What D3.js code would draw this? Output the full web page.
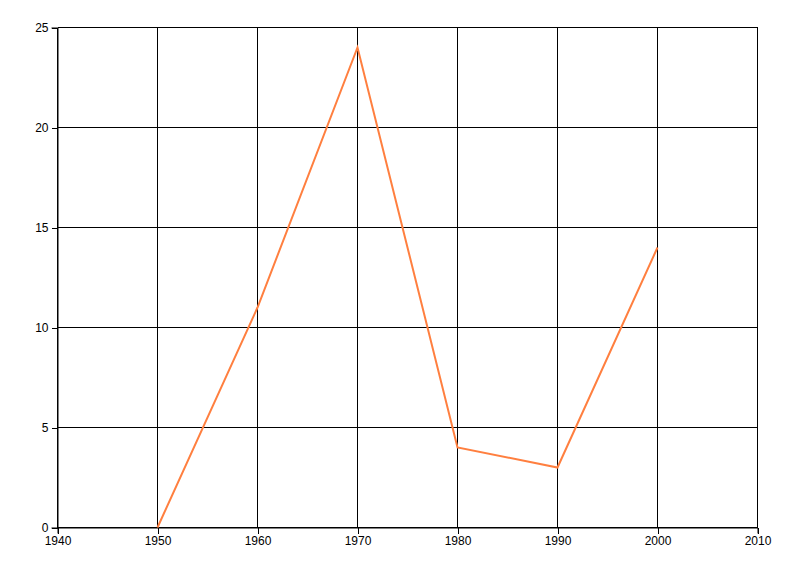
<!DOCTYPE html>
<html><head><meta charset="utf-8">
<script src="https://cdn.jsdelivr.net/npm/d3@7"></script>
<style>body{margin:0;background:#fff}svg{display:block}text{font-family:"Liberation Sans",Arial,sans-serif;font-size:12px;fill:#000}</style>
</head><body><svg id="c" width="800" height="576"></svg>
<script>
const years = [1950, 1960, 1970, 1980, 1990, 2000];
const values = [0, 11, 24, 4, 3, 14];
const xTicks = [1940, 1950, 1960, 1970, 1980, 1990, 2000, 2010];
const yTicks = [0, 5, 10, 15, 20, 25];

const svg = d3.select("#c");
const m = {l: 57.5, r: 757.5, t: 27.5, b: 527.5};
const x = d3.scaleLinear().domain([1940, 2010]).range([m.l, m.r]);
const y = d3.scaleLinear().domain([0, 25]).range([m.b, m.t]);

const g = svg.append("g");
// grid
g.selectAll(".vg").data(xTicks).join("line")
  .attr("x1", d => x(d)).attr("x2", d => x(d)).attr("y1", m.t).attr("y2", m.b)
  .attr("stroke", "#000").attr("stroke-width", 1).attr("shape-rendering", "crispEdges");
g.selectAll(".hg").data(yTicks).join("line")
  .attr("x1", m.l).attr("x2", m.r).attr("y1", d => y(d)).attr("y2", d => y(d))
  .attr("stroke", "#000").attr("stroke-width", 1).attr("shape-rendering", "crispEdges");

const xa = svg.append("g").attr("transform", `translate(0,${m.b})`)
  .call(d3.axisBottom(x).tickValues(xTicks).tickFormat(d3.format("d")).tickSize(6).tickPadding(3));
const ya = svg.append("g").attr("transform", `translate(${m.l},0)`)
  .call(d3.axisLeft(y).tickValues(yTicks).tickSize(6).tickPadding(3));
[xa, ya].forEach(a => {
  a.select(".domain").attr("stroke", "#000");
  a.selectAll("line").attr("stroke", "#000").attr("shape-rendering", "crispEdges");
  a.selectAll("text").attr("font-family", "Liberation Sans, Arial, sans-serif").attr("font-size", 12).attr("fill", "#000");
});

const line = d3.line().x((d, i) => x(years[i])).y(d => y(d));
svg.append("path").datum(values).attr("d", line)
  .attr("fill", "none").attr("stroke", "#FF7F3F").attr("stroke-width", 2).attr("stroke-linejoin", "miter");
</script></body></html>
